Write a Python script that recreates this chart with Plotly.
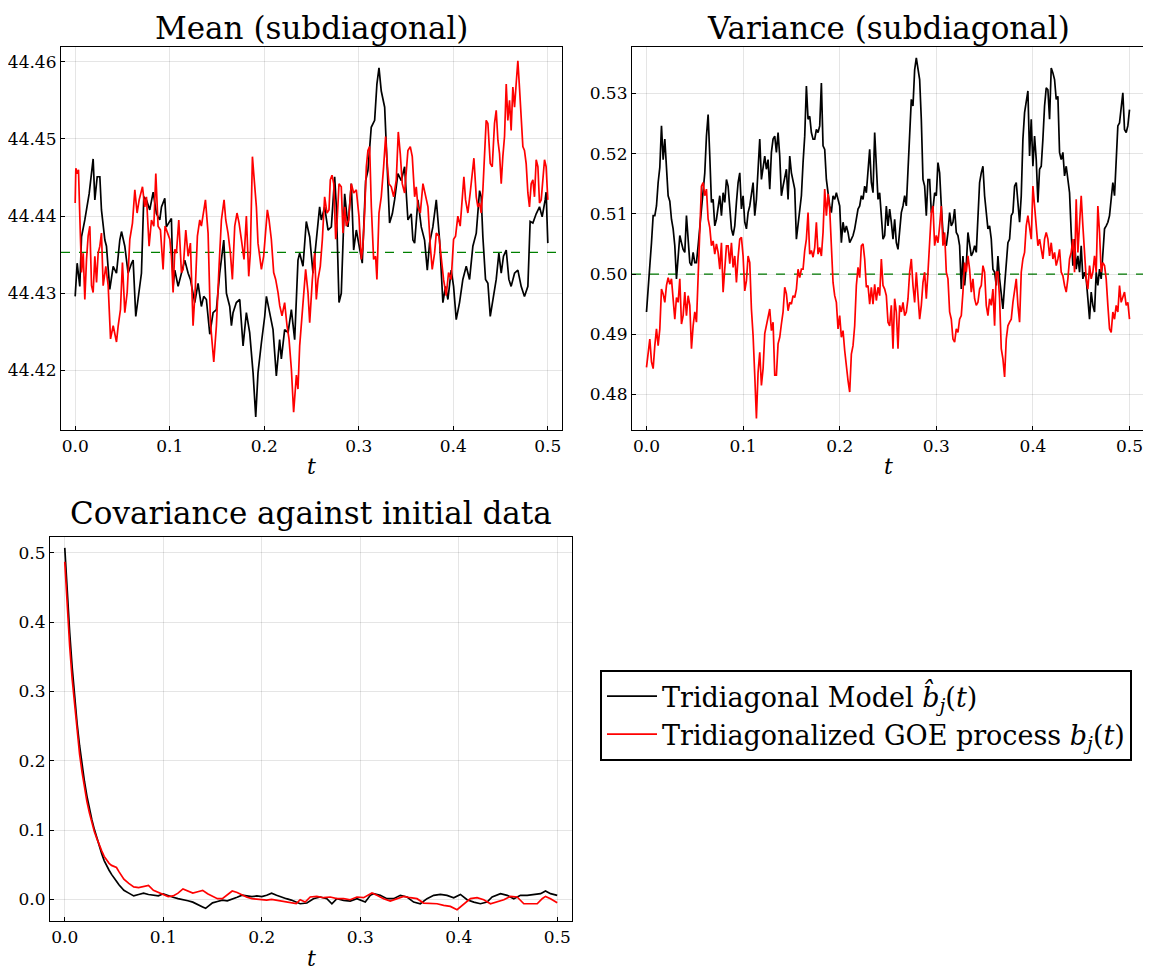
import numpy as np
import plotly.graph_objects as go

# ---------------- Mean (subdiagonal) ----------------
mean_t_model = [0.0000,0.0021,0.0049,0.0067,0.0102,0.0127,0.0148,0.0190,0.0208,0.0233,0.0261,0.0278,0.0314,0.0331,0.0366,0.0402,0.0437,0.0472,0.0490,0.0525,
 0.0560,0.0596,0.0613,0.0641,0.0666,0.0701,0.0726,0.0754,0.0789,0.0825,0.0860,0.0895,0.0913,0.0948,0.0965,0.1001,0.1018,0.1036,0.1054,0.1089,
 0.1124,0.1159,0.1195,0.1219,0.1265,0.1300,0.1335,0.1360,0.1388,0.1424,0.1459,0.1494,0.1529,0.1547,0.1572,0.1600,0.1635,0.1653,0.1670,0.1705,
 0.1741,0.1776,0.1811,0.1846,0.1882,0.1910,0.1934,0.1970,0.2005,0.2023,0.2058,0.2093,0.2128,0.2163,0.2181,0.2216,0.2252,0.2287,0.2322,0.2357,
 0.2375,0.2410,0.2445,0.2481,0.2516,0.2551,0.2586,0.2604,0.2639,0.2675,0.2710,0.2745,0.2763,0.2791,0.2815,0.2851,0.2886,0.2921,0.2946,0.2974,
 0.3002,0.3037,0.3073,0.3097,0.3132,0.3168,0.3192,0.3214,0.3238,0.3274,0.3298,0.3326,0.3355,0.3379,0.3414,0.3450,0.3485,0.3520,0.3555,0.3573,
 0.3591,0.3626,0.3661,0.3696,0.3725,0.3749,0.3784,0.3820,0.3855,0.3890,0.3918,0.3943,0.3978,0.4003,0.4031,0.4066,0.4101,0.4137,0.4172,0.4207,
 0.4243,0.4278,0.4295,0.4313,0.4341,0.4366,0.4391,0.4419,0.4454,0.4482,0.4507,0.4531,0.4560,0.4588,0.4612,0.4648,0.4683,0.4718,0.4753,0.4789,
 0.4813,0.4842,0.4877,0.4912,0.4940,0.4972,0.4982,0.5000]
mean_model = [44.4296,44.4339,44.4309,44.4373,44.4395,44.4412,44.4429,44.4474,44.4421,44.4451,44.4451,44.4408,44.4369,44.4361,44.4305,44.4335,44.4326,44.4369,44.4380,44.4361,
 44.4326,44.4339,44.4343,44.4270,44.4292,44.4326,44.4425,44.4421,44.4408,44.4431,44.4403,44.4395,44.4412,44.4423,44.4386,44.4393,44.4397,44.4309,44.4330,44.4309,
 44.4326,44.4343,44.4326,44.4318,44.4288,44.4313,44.4283,44.4296,44.4292,44.4247,44.4275,44.4279,44.4326,44.4348,44.4369,44.4300,44.4283,44.4258,44.4275,44.4288,
 44.4292,44.4232,44.4275,44.4249,44.4197,44.4140,44.4197,44.4236,44.4270,44.4296,44.4275,44.4253,44.4193,44.4240,44.4215,44.4253,44.4249,44.4279,44.4240,44.4343,
 44.4352,44.4335,44.4393,44.4373,44.4326,44.4369,44.4412,44.4395,44.4412,44.4382,44.4386,44.4451,44.4412,44.4288,44.4300,44.4429,44.4386,44.4442,44.4356,44.4382,
 44.4361,44.4339,44.4446,44.4459,44.4515,44.4524,44.4571,44.4592,44.4562,44.4541,44.4472,44.4391,44.4403,44.4421,44.4455,44.4446,44.4464,44.4395,44.4403,44.4369,
 44.4365,44.4421,44.4386,44.4369,44.4330,44.4365,44.4386,44.4421,44.4369,44.4288,44.4309,44.4292,44.4330,44.4309,44.4266,44.4288,44.4318,44.4335,44.4318,44.4361,
 44.4378,44.4433,44.4425,44.4373,44.4318,44.4313,44.4270,44.4292,44.4318,44.4352,44.4326,44.4348,44.4356,44.4318,44.4309,44.4326,44.4330,44.4309,44.4296,44.4309,
 44.4393,44.4391,44.4403,44.4412,44.4399,44.4421,44.4431,44.4365]

mean_t_goe = [0.0000,0.0007,0.0021,0.0035,0.0049,0.0067,0.0085,0.0102,0.0120,0.0137,0.0155,0.0173,0.0190,0.0208,0.0226,0.0243,0.0261,0.0278,0.0296,0.0324,
 0.0349,0.0374,0.0402,0.0437,0.0455,0.0479,0.0500,0.0525,0.0550,0.0578,0.0606,0.0631,0.0655,0.0677,0.0712,0.0736,0.0754,0.0782,0.0807,0.0832,
 0.0853,0.0877,0.0902,0.0930,0.0951,0.0976,0.1001,0.1018,0.1036,0.1054,0.1071,0.1096,0.1124,0.1142,0.1170,0.1195,0.1219,0.1247,0.1272,0.1293,
 0.1318,0.1335,0.1360,0.1378,0.1406,0.1431,0.1466,0.1494,0.1522,0.1547,0.1575,0.1593,0.1617,0.1642,0.1663,0.1688,0.1712,0.1734,0.1758,0.1786,
 0.1811,0.1836,0.1853,0.1875,0.1889,0.1917,0.1934,0.1952,0.1970,0.1994,0.2012,0.2033,0.2051,0.2075,0.2100,0.2121,0.2146,0.2164,0.2188,0.2216,
 0.2241,0.2262,0.2287,0.2311,0.2340,0.2357,0.2375,0.2393,0.2417,0.2438,0.2463,0.2481,0.2509,0.2534,0.2551,0.2569,0.2593,0.2615,0.2639,0.2664,
 0.2685,0.2699,0.2717,0.2735,0.2756,0.2770,0.2791,0.2815,0.2833,0.2851,0.2868,0.2893,0.2921,0.2946,0.2974,0.3002,0.3027,0.3044,0.3062,0.3080,
 0.3097,0.3115,0.3133,0.3157,0.3178,0.3192,0.3214,0.3238,0.3263,0.3284,0.3298,0.3319,0.3344,0.3369,0.3397,0.3418,0.3439,0.3460,0.3485,0.3503,
 0.3520,0.3545,0.3566,0.3591,0.3608,0.3626,0.3651,0.3679,0.3707,0.3732,0.3757,0.3777,0.3802,0.3820,0.3848,0.3872,0.3897,0.3925,0.3950,0.3978,
 0.4003,0.4024,0.4048,0.4073,0.4095,0.4112,0.4130,0.4154,0.4179,0.4200,0.4218,0.4243,0.4260,0.4278,0.4295,0.4313,0.4331,0.4348,0.4366,0.4391,
 0.4412,0.4436,0.4454,0.4472,0.4489,0.4507,0.4524,0.4542,0.4560,0.4577,0.4595,0.4612,0.4630,0.4648,0.4665,0.4683,0.4700,0.4718,0.4736,0.4753,
 0.4771,0.4789,0.4806,0.4824,0.4842,0.4859,0.4877,0.4895,0.4912,0.4930,0.4947,0.4965,0.4982,0.5000]
mean_goe = [44.4417,44.4462,44.4455,44.4460,44.4400,44.4327,44.4352,44.4292,44.4344,44.4374,44.4387,44.4310,44.4301,44.4348,44.4314,44.4352,44.4361,44.4378,44.4310,44.4335,
 44.4310,44.4241,44.4258,44.4237,44.4258,44.4279,44.4340,44.4275,44.4301,44.4370,44.4391,44.4434,44.4404,44.4421,44.4438,44.4412,44.4425,44.4361,44.4395,44.4387,
 44.4455,44.4387,44.4382,44.4331,44.4387,44.4378,44.4370,44.4348,44.4301,44.4357,44.4352,44.4395,44.4327,44.4331,44.4382,44.4348,44.4365,44.4258,44.4310,44.4374,
 44.4395,44.4387,44.4404,44.4421,44.4378,44.4262,44.4211,44.4258,44.4335,44.4395,44.4421,44.4395,44.4378,44.4352,44.4318,44.4387,44.4404,44.4391,44.4370,44.4344,
 44.4400,44.4322,44.4352,44.4477,44.4455,44.4412,44.4365,44.4344,44.4331,44.4348,44.4378,44.4408,44.4395,44.4370,44.4327,44.4318,44.4301,44.4284,44.4271,44.4288,
 44.4258,44.4241,44.4202,44.4146,44.4194,44.4176,44.4232,44.4262,44.4305,44.4331,44.4301,44.4262,44.4318,44.4352,44.4292,44.4318,44.4335,44.4370,44.4425,44.4404,
 44.4408,44.4447,44.4453,44.4442,44.4370,44.4391,44.4442,44.4438,44.4378,44.4412,44.4387,44.4395,44.4442,44.4430,44.4434,44.4400,44.4344,44.4361,44.4404,44.4464,
 44.4485,44.4490,44.4412,44.4344,44.4348,44.4318,44.4404,44.4425,44.4464,44.4503,44.4473,44.4442,44.4438,44.4425,44.4447,44.4509,44.4481,44.4442,44.4430,44.4455,
 44.4485,44.4490,44.4477,44.4425,44.4438,44.4412,44.4404,44.4442,44.4425,44.4412,44.4361,44.4331,44.4352,44.4378,44.4374,44.4344,44.4318,44.4297,44.4327,44.4318,
 44.4370,44.4374,44.4400,44.4387,44.4425,44.4451,44.4421,44.4404,44.4430,44.4455,44.4475,44.4425,44.4412,44.4417,44.4404,44.4434,44.4473,44.4524,44.4520,44.4468,
 44.4464,44.4520,44.4537,44.4498,44.4481,44.4442,44.4477,44.4503,44.4571,44.4524,44.4550,44.4511,44.4567,44.4541,44.4571,44.4601,44.4567,44.4533,44.4490,44.4485,
 44.4468,44.4430,44.4412,44.4442,44.4447,44.4425,44.4473,44.4464,44.4417,44.4421,44.4447,44.4473,44.4464,44.4421]
mean_ref = 44.4353

# ---------------- Variance (subdiagonal), uniform grid t in [0, 0.5] ----------------
var_model = [0.4937,0.4970,0.5014,0.5052,0.5097,0.5097,0.5113,0.5152,0.5177,0.5246,
 0.5190,0.5224,0.5168,0.5130,0.5121,0.5091,0.5075,0.5047,0.4992,0.5030,
 0.5064,0.5052,0.5041,0.5036,0.5097,0.5058,0.5019,0.5014,0.5036,0.5019,
 0.5019,0.5047,0.5075,0.5108,0.5141,0.5168,0.5229,0.5265,0.5196,0.5119,
 0.5124,0.5080,0.5091,0.5113,0.5130,0.5097,0.5135,0.5119,0.5157,0.5146,
 0.5113,0.5075,0.5064,0.5080,0.5119,0.5152,0.5168,0.5108,0.5130,0.5086,
 0.5075,0.5102,0.5113,0.5130,0.5152,0.5097,0.5124,0.5174,0.5224,0.5157,
 0.5179,0.5196,0.5174,0.5190,0.5141,0.5202,0.5224,0.5229,0.5202,0.5235,
 0.5196,0.5130,0.5146,0.5163,0.5174,0.5124,0.5196,0.5168,0.5157,0.5141,
 0.5058,0.5080,0.5102,0.5130,0.5185,0.5229,0.5312,0.5257,0.5262,0.5235,
 0.5224,0.5224,0.5240,0.5235,0.5246,0.5317,0.5213,0.5207,0.5157,0.5135,
 0.5113,0.5102,0.5130,0.5124,0.5135,0.5124,0.5113,0.5052,0.5086,0.5069,
 0.5080,0.5069,0.5052,0.5058,0.5064,0.5075,0.5091,0.5108,0.5113,0.5130,
 0.5124,0.5146,0.5135,0.5168,0.5207,0.5152,0.5135,0.5235,0.5168,0.5124,
 0.5135,0.5091,0.5058,0.5064,0.5113,0.5080,0.5108,0.5086,0.5058,0.5091,
 0.5052,0.5041,0.5080,0.5102,0.5113,0.5130,0.5113,0.5168,0.5224,0.5290,
 0.5279,0.5339,0.5359,0.5339,0.5323,0.5257,0.5157,0.5146,0.5097,0.5157,
 0.5157,0.5102,0.5108,0.5135,0.5130,0.5185,0.5168,0.5113,0.5069,0.5052,
 0.5047,0.5069,0.5102,0.5080,0.5086,0.5108,0.5069,0.5064,0.5047,0.4975,
 0.5030,0.4981,0.5014,0.5069,0.5052,0.5030,0.5036,0.5047,0.5036,0.5086,
 0.5152,0.5168,0.5179,0.5130,0.5097,0.5075,0.5080,0.5058,0.5008,0.5003,
 0.4981,0.5030,0.4992,0.4970,0.4942,0.4981,0.5025,0.5052,0.5058,0.5097,
 0.5102,0.5146,0.5152,0.5113,0.5086,0.5130,0.5224,0.5268,0.5284,0.5304,
 0.5196,0.5257,0.5179,0.5229,0.5190,0.5119,0.5174,0.5179,0.5224,0.5279,
 0.5309,0.5306,0.5257,0.5342,0.5334,0.5323,0.5290,0.5295,0.5202,0.5190,
 0.5202,0.5163,0.5179,0.5152,0.5135,0.5069,0.5014,0.5058,0.5008,0.5030,
 0.5003,0.5047,0.4992,0.5003,0.4992,0.4959,0.4925,0.4970,0.4948,0.4937,
 0.5003,0.4981,0.5008,0.4992,0.5030,0.5075,0.5080,0.5086,0.5097,0.5124,
 0.5152,0.5130,0.5196,0.5246,0.5251,0.5273,0.5301,0.5240,0.5235,0.5246,0.5273]
var_goe = [0.4845,0.4865,0.4892,0.4854,0.4843,0.4881,0.4909,0.4881,0.4909,0.4975,
 0.4967,0.4953,0.4981,0.4994,0.4983,0.4992,0.4959,0.4925,0.4961,0.4953,
 0.4992,0.4917,0.4931,0.4970,0.4931,0.4964,0.4948,0.4876,0.4914,0.4937,
 0.4920,0.5008,0.5064,0.5146,0.5152,0.5130,0.5141,0.5091,0.5077,0.5047,
 0.5055,0.5033,0.5050,0.5036,0.5008,0.5052,0.4970,0.5019,0.5047,0.5047,
 0.5017,0.5052,0.5011,0.5030,0.4986,0.5028,0.5058,0.5061,0.5030,0.4972,
 0.4989,0.5030,0.5019,0.4942,0.4898,0.4832,0.4760,0.4837,0.4870,0.4815,
 0.4843,0.4901,0.4914,0.4923,0.4942,0.4906,0.4920,0.4832,0.4832,0.4884,
 0.4895,0.4917,0.4937,0.4978,0.4967,0.4939,0.4953,0.4950,0.4964,0.4961,
 0.4975,0.5008,0.4994,0.5008,0.5008,0.5039,0.5058,0.5102,0.5033,0.5039,
 0.5028,0.5044,0.5086,0.5033,0.5044,0.5030,0.5069,0.5141,0.5097,0.5133,
 0.5108,0.5047,0.4986,0.4964,0.4953,0.4909,0.4931,0.4895,0.4906,0.4873,
 0.4845,0.4823,0.4804,0.4867,0.4881,0.4914,0.4981,0.5011,0.4994,0.5047,
 0.5050,0.5025,0.4978,0.4981,0.4950,0.4978,0.4950,0.4983,0.4956,0.4978,
 0.4964,0.5025,0.4981,0.4975,0.4964,0.4920,0.4914,0.4948,0.4876,0.4959,
 0.4937,0.4876,0.4948,0.4937,0.4953,0.4931,0.4937,0.4959,0.5003,0.5025,
 0.4981,0.4953,0.5003,0.4970,0.4925,0.4948,0.4986,0.5003,0.4959,0.5003,
 0.5058,0.5102,0.5113,0.5047,0.5064,0.5052,0.5080,0.5113,0.5047,0.5069,
 0.5003,0.4992,0.4937,0.4925,0.4892,0.4887,0.4909,0.4903,0.4925,0.4931,
 0.4970,0.5019,0.5003,0.5030,0.5008,0.4970,0.4992,0.4959,0.4948,0.4953,
 0.4975,0.4981,0.5014,0.5003,0.4948,0.4931,0.4959,0.4948,0.4975,0.4914,
 0.5003,0.5003,0.4959,0.4876,0.4859,0.4829,0.4892,0.4914,0.4920,0.4925,
 0.4953,0.4970,0.4992,0.4948,0.4920,0.5003,0.5025,0.5036,0.5080,0.5097,
 0.5080,0.5058,0.5146,0.5113,0.5069,0.5047,0.5058,0.5041,0.5025,0.5058,
 0.5069,0.5058,0.5030,0.5052,0.5025,0.5036,0.5014,0.5025,0.5041,0.5003,
 0.4997,0.4981,0.4970,0.4992,0.5025,0.5036,0.5058,0.5003,0.5124,0.5036,
 0.5075,0.5130,0.5080,0.5036,0.4992,0.4975,0.5014,0.4992,0.5003,0.5030,
 0.5003,0.5113,0.5069,0.5003,0.5019,0.5014,0.4992,0.4948,0.4909,0.4903,
 0.4937,0.4925,0.4948,0.4937,0.4981,0.4953,0.4964,0.4970,0.4948,0.4953,0.4925]
var_ref = 0.5
var_t = np.linspace(0.0, 0.5, len(var_model))

# ---------------- Covariance against initial data ----------------
cov_t_model = [0,0.0025,0.005,0.0075,0.01,0.0125,0.015,0.0175,0.02,0.0225,0.025,0.0275,0.03,0.0325,0.035,0.0375,0.04,0.0425,0.045,0.0475,
 0.05,0.0525,0.055,0.0575,0.06,0.065,0.07,0.075,0.08,0.085,0.09,0.095,0.1,0.105,0.11,0.115,0.12,0.125,0.13,0.135,
 0.14,0.143,0.146,0.15,0.155,0.16,0.165,0.17,0.175,0.18,0.185,0.19,0.195,0.2,0.205,0.21,0.215,0.22,0.225,0.23,0.235,
 0.2390,0.2458,0.2525,0.2593,0.2661,0.2712,0.2763,0.2831,0.2898,0.2966,0.3051,0.3102,0.3136,0.3203,0.3271,0.3339,0.3407,0.3475,0.3542,0.3610,
 0.3678,0.3746,0.3814,0.3881,0.3949,0.4017,0.4085,0.4153,0.4220,0.4288,0.4339,0.4424,0.4492,0.4559,0.4627,0.4695,0.4763,0.4831,0.4881,0.4932,0.5]
cov_model = [0.507,0.440,0.385,0.335,0.292,0.254,0.222,0.194,0.170,0.149,0.131,0.115,0.101,0.088,0.077,0.066,0.056,0.048,0.042,0.036,
 0.030,0.026,0.021,0.017,0.013,0.009,0.005,0.007,0.009,0.007,0.006,0.005,0.008,0.005,0.003,0.001,0.000,-0.002,-0.004,-0.007,
 -0.011,-0.013,-0.009,-0.005,-0.003,-0.001,-0.002,0.000,0.003,0.006,0.005,0.004,0.005,0.004,0.006,0.009,0.006,0.003,0.001,-0.001,-0.004,
 -0.0063,-0.0053,0.0010,0.0034,0.0010,-0.0063,0.0010,-0.0014,-0.0024,0.0010,-0.0039,0.0058,0.0082,0.0058,0.0010,0.0010,0.0058,0.0034,-0.0039,-0.0063,
 0.0010,0.0058,0.0072,0.0058,0.0024,0.0072,-0.0005,-0.0039,-0.0063,-0.0039,0.0034,0.0082,0.0058,0.0010,0.0058,0.0058,0.0072,0.0082,0.0121,0.0082,0.0058]
cov_t_goe = [0,0.0025,0.005,0.0075,0.01,0.0125,0.015,0.0175,0.02,0.0225,0.025,0.0275,0.03,0.0325,0.035,0.0375,0.04,0.0425,0.045,0.0475,
 0.05,0.0525,0.055,0.0575,0.06,0.065,0.07,0.075,0.08,0.085,0.09,0.095,0.1,0.105,0.11,0.115,0.12,0.125,0.13,0.135,
 0.14,0.145,0.15,0.155,0.16,0.165,0.17,0.175,0.18,0.185,0.19,0.195,0.2,0.205,0.21,0.215,0.22,0.225,0.23,0.235,
 0.2390,0.2441,0.2492,0.2559,0.2627,0.2695,0.2763,0.2831,0.2898,0.2966,0.3034,0.3085,0.3119,0.3169,0.3237,0.3305,0.3373,0.3441,0.3508,0.3576,
 0.3644,0.3712,0.3780,0.3847,0.3915,0.3983,0.4051,0.4119,0.4186,0.4254,0.4322,0.4390,0.4458,0.4525,0.4593,0.4661,0.4729,0.4797,0.4847,0.4881,0.4932,0.5]
cov_goe = [0.487,0.420,0.365,0.318,0.278,0.242,0.210,0.184,0.161,0.141,0.125,0.111,0.098,0.088,0.078,0.070,0.062,0.057,0.052,0.049,
 0.047,0.046,0.040,0.034,0.029,0.023,0.018,0.017,0.018,0.020,0.013,0.010,0.006,0.004,0.005,0.009,0.015,0.012,0.009,0.011,
 0.013,0.008,0.004,0.001,0.001,0.006,0.012,0.010,0.006,0.003,0.001,0.000,0.000,-0.001,0.000,-0.001,-0.002,-0.004,-0.005,-0.006,
 -0.0005,-0.0039,0.0034,0.0043,0.0024,0.0034,0.0010,0.0010,-0.0005,0.0034,0.0024,0.0058,0.0092,0.0058,0.0010,-0.0024,0.0010,0.0043,0.0024,0.0010,
 -0.0053,-0.0053,-0.0063,-0.0087,-0.0101,-0.0149,-0.0063,0.0010,0.0024,-0.0005,-0.0063,-0.0039,-0.0005,0.0043,0.0034,-0.0063,-0.0063,-0.0063,0.0010,0.0043,0.0010,-0.0048]

# ---------------- labels ----------------
titles = ["Mean (subdiagonal)", "Variance (subdiagonal)", "Covariance against initial data"]
name_model = "Tridiagonal Model <i>b\u0302</i><sub><i>j</i></sub>(<i>t</i>)"
name_goe = "Tridiagonalized GOE process <i>b</i><sub><i>j</i></sub>(<i>t</i>)"
x_ticks = [0.0, 0.1, 0.2, 0.3, 0.4, 0.5]
mean_ticks = [44.42, 44.43, 44.44, 44.45, 44.46]
var_ticks = [0.48, 0.49, 0.50, 0.51, 0.52, 0.53]
cov_ticks = [0.0, 0.1, 0.2, 0.3, 0.4, 0.5]

FONT = "'DejaVu Serif', 'Liberation Serif', serif"
OFF = 8                      # page body margin of the browser
W, H = 1151 - OFF, 971 - OFF
BLACK = "#000000"
RED = "#ff0000"
LW = 1.7

fig = go.Figure()
fig.add_trace(go.Scatter(x=mean_t_model, y=mean_model, mode="lines", line=dict(color=BLACK, width=LW),
                         name=name_model, xaxis="x", yaxis="y", legendgroup="m"))
fig.add_trace(go.Scatter(x=mean_t_goe, y=mean_goe, mode="lines", line=dict(color=RED, width=LW),
                         name=name_goe, xaxis="x", yaxis="y", legendgroup="g"))
fig.add_trace(go.Scatter(x=var_t, y=var_model, mode="lines", line=dict(color=BLACK, width=LW),
                         showlegend=False, xaxis="x2", yaxis="y2", legendgroup="m"))
fig.add_trace(go.Scatter(x=var_t, y=var_goe, mode="lines", line=dict(color=RED, width=LW),
                         showlegend=False, xaxis="x2", yaxis="y2", legendgroup="g"))
fig.add_trace(go.Scatter(x=cov_t_model, y=cov_model, mode="lines", line=dict(color=BLACK, width=LW),
                         showlegend=False, xaxis="x3", yaxis="y3", legendgroup="m"))
fig.add_trace(go.Scatter(x=cov_t_goe, y=cov_goe, mode="lines", line=dict(color=RED, width=LW),
                         showlegend=False, xaxis="x3", yaxis="y3", legendgroup="g"))

for yref, xref, val in [("y", "x", mean_ref), ("y2", "x2", var_ref)]:
    fig.add_shape(type="line", xref=xref + " domain", yref=yref, x0=0, x1=1, y0=val, y1=val,
                  line=dict(color="#008000", width=1.2, dash="dash"), layer="below")

def px(xp):
    return (xp - OFF) / W

def py(yp):
    return 1 - (yp - OFF) / H

axis_common = dict(showline=True, linecolor=BLACK, linewidth=1.2, mirror=True,
                   showgrid=True, gridcolor="rgba(0,0,0,0.1)", gridwidth=1,
                   zeroline=False, ticks="inside", ticklen=4, tickcolor=BLACK,
                   tickfont=dict(family=FONT, size=17, color=BLACK))

xr = [-0.015, 0.515]
fig.update_layout(
    xaxis=dict(domain=[px(61), px(562)], range=xr, anchor="y", tickvals=x_ticks, tickformat=".1f", **axis_common),
    yaxis=dict(domain=[py(430), py(47)], range=[44.4123, 44.4619], anchor="x", tickvals=mean_ticks, tickformat=".2f", **axis_common),
    xaxis2=dict(domain=[px(632), px(1144)], range=xr, anchor="y2", tickvals=x_ticks, tickformat=".1f", **axis_common),
    yaxis2=dict(domain=[py(430), py(47)], range=[0.4741, 0.5377], anchor="x2", tickvals=var_ticks, tickformat=".2f", **axis_common),
    xaxis3=dict(domain=[px(50), px(572)], range=xr, anchor="y3", tickvals=x_ticks, tickformat=".1f", **axis_common),
    yaxis3=dict(domain=[py(921), py(537)], range=[-0.0312, 0.5227], anchor="x3", tickvals=cov_ticks, tickformat=".1f", **axis_common),
)

annots = []
for text, xc, yc in [(titles[0], 311, 28), (titles[1], 888, 28), (titles[2], 311, 513)]:
    annots.append(dict(text=text, x=px(xc), y=py(yc), xref="paper", yref="paper", showarrow=False,
                       xanchor="center", yanchor="middle", font=dict(family=FONT, size=31, color=BLACK)))
for xc, yc in [(311, 466), (888, 466), (311, 958)]:
    annots.append(dict(text="<i>t</i>", x=px(xc), y=py(yc), xref="paper", yref="paper", showarrow=False,
                       xanchor="center", yanchor="middle", font=dict(family=FONT, size=22, color=BLACK)))

fig.update_layout(
    width=W, height=H,
    margin=dict(l=0, r=0, t=0, b=0),
    paper_bgcolor="white", plot_bgcolor="white",
    annotations=annots,
    showlegend=True,
    legend=dict(x=px(600), y=py(670), xanchor="left", yanchor="top",
                bgcolor="white", bordercolor=BLACK, borderwidth=2,
                font=dict(family=FONT, size=27, color=BLACK),
                itemwidth=50, tracegroupgap=0),
)

fig.write_html("out.html")
